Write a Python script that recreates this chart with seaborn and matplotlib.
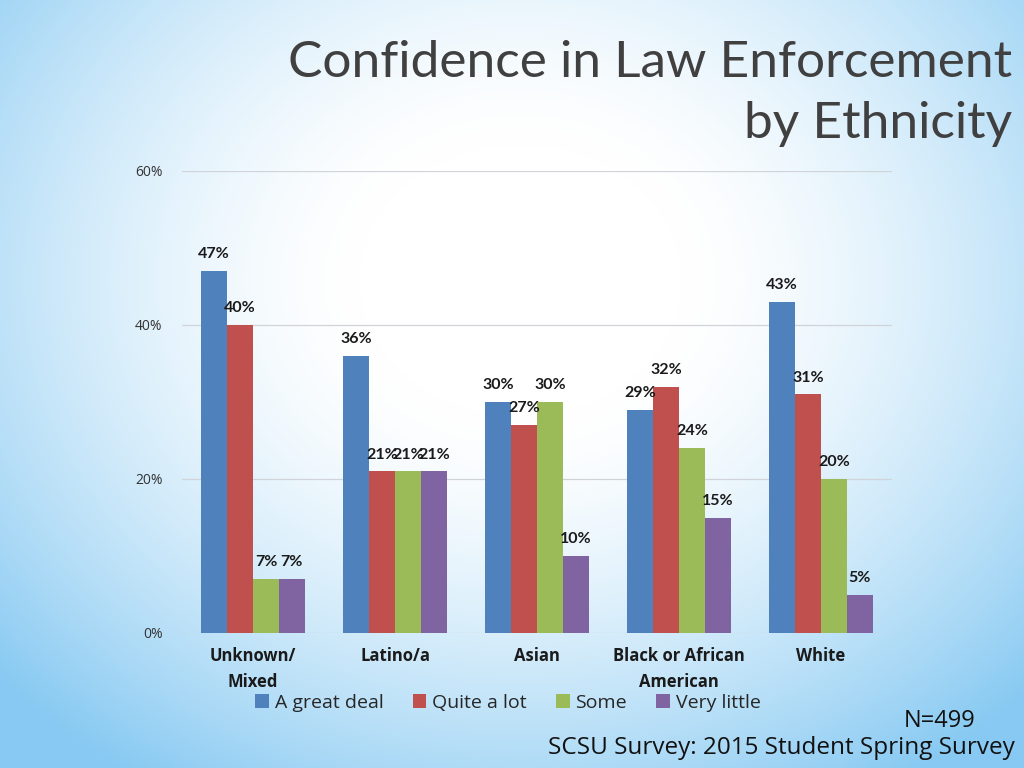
import numpy as np
import pandas as pd
import matplotlib
matplotlib.use("Agg")
import matplotlib.pyplot as plt
import seaborn as sns

# data
categories = ["Unknown/\nMixed", "Latino/a", "Asian", "Black or African\nAmerican", "White"]
levels = ["A great deal", "Quite a lot", "Some", "Very little"]
great_deal = [47, 36, 30, 29, 43]
quite_a_lot = [40, 21, 27, 32, 31]
some = [7, 21, 30, 24, 20]
very_little = [7, 21, 10, 15, 5]
colors = ["#4F81BD", "#C0504D", "#9BBB59", "#8064A2"]

rows = []
for lvl, vals in zip(levels, [great_deal, quite_a_lot, some, very_little]):
    for cat, v in zip(categories, vals):
        rows.append({"Ethnicity": cat, "Confidence": lvl, "Pct": v})
df = pd.DataFrame(rows)

sns.set_theme(style="white")
plt.rcParams["font.family"] = ["Open Sans", "DejaVu Sans"]

fig = plt.figure(figsize=(10.24, 7.68), dpi=100)

# radial light-blue background
bg = fig.add_axes([0, 0, 1, 1], zorder=-10)
yy, xx = np.mgrid[0:768, 0:1024]
r = np.sqrt(((xx - 520) / 640.0) ** 2 + ((yy - 280) / 540.0) ** 2)
t = np.clip((r - 0.25) / 0.85, 0, 1) ** 1.5
edge = np.array([0.53, 0.79, 0.95])
white = np.array([1.0, 1.0, 1.0])
img = white[None, None, :] * (1 - t[..., None]) + edge[None, None, :] * t[..., None]
bg.imshow(img, aspect="auto", extent=[0, 1, 0, 1])
bg.axis("off")

ax = fig.add_axes([182 / 1024, 1 - 633 / 768, 710 / 1024, 462 / 768])
ax.patch.set_alpha(0)
sns.barplot(data=df, x="Ethnicity", y="Pct", hue="Confidence", palette=colors,
            width=0.73, saturation=1, linewidth=0, ax=ax, legend=True)

for cont in ax.containers:
    ax.bar_label(cont, labels=[f"{int(round(b.get_height()))}%" for b in cont],
                 padding=7, fontsize=11.5, fontweight="bold", color="#1a1a1a",
                 family=["Lato", "DejaVu Sans"])

ax.set_ylim(0, 60)
ax.set_xlim(-0.5, 4.5)
ax.set_yticks([0, 20, 40, 60])
ax.set_yticklabels(["0%", "20%", "40%", "60%"], fontsize=10, color="#333333")
ax.tick_params(axis="y", pad=14, length=0)
ax.tick_params(axis="x", length=0, pad=10)
for lbl in ax.get_xticklabels():
    lbl.set_fontweight("bold")
    lbl.set_fontsize(12)
    lbl.set_linespacing(1.6)
    lbl.set_color("#1a1a1a")
ax.yaxis.grid(True, color="#d0d4d8", linewidth=0.9)
ax.set_axisbelow(True)
for s in ax.spines.values():
    s.set_visible(False)
ax.set_xlabel("")
ax.set_ylabel("")

handles, labels = ax.get_legend_handles_labels()
ax.legend(handles, labels, loc="center", bbox_to_anchor=(508 / 1024, 1 - 703 / 768),
          bbox_transform=fig.transFigure, ncol=4, frameon=False, fontsize=14,
          handlelength=0.7, handleheight=0.7, handletextpad=0.3, columnspacing=1.5)

fig.text(1012 / 1024, 1 - 63 / 768, "Confidence in Law Enforcement", ha="right", va="center",
         fontsize=37, color="#404040", family=["Lato", "DejaVu Sans"])
fig.text(1012 / 1024, 1 - 124 / 768, "by Ethnicity", ha="right", va="center",
         fontsize=37, color="#404040", family=["Lato", "DejaVu Sans"])
fig.text(975 / 1024, 1 - 721 / 768, "N=499", ha="right", va="center", fontsize=17, color="#111111")
fig.text(1015 / 1024, 1 - 748 / 768, "SCSU Survey: 2015 Student Spring Survey", ha="right",
         va="center", fontsize=17.5, color="#111111")

fig.savefig("out.png", dpi=100)
